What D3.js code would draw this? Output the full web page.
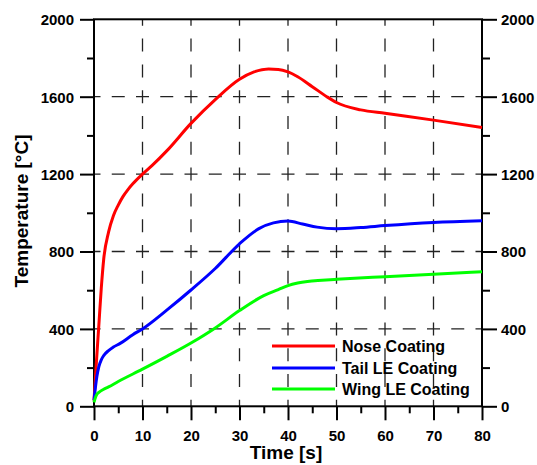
<!DOCTYPE html>
<html>
<head>
<meta charset="utf-8">
<script src="https://cdn.jsdelivr.net/npm/d3@7"></script>
<style>
  body { margin: 0; background: #fff; }
  text { font-family: "Liberation Sans", Arial, sans-serif; font-weight: bold; fill: #000; }
</style>
</head>
<body>
<svg id="chart" width="537" height="465"></svg>
<script>
// data
const noseTime = [0, 0.5, 1, 1.5, 2, 3, 4, 5, 6, 7, 8, 10, 12, 15, 20, 25, 30, 33, 36, 38, 40, 42, 45, 48, 50, 55, 60, 70, 80];
const noseTemp = [30, 230, 420, 610, 760, 900, 985, 1040, 1085, 1120, 1150, 1200, 1245, 1320, 1462, 1585, 1690, 1728, 1743, 1741, 1728, 1703, 1652, 1600, 1570, 1532, 1514, 1479, 1441];

const tailTime = [0, 0.3, 0.6, 1, 1.5, 2, 3, 4, 5.4, 8, 10, 15, 20, 25, 30, 34, 37, 40, 43, 46, 50, 55, 60, 70, 80];
const tailTemp = [30, 100, 155, 205, 240, 262, 288, 306, 325, 370, 400, 497, 601, 712, 840, 918, 948, 957, 942, 926, 918, 924, 934, 950, 959];

const wingTime = [0, 0.3, 0.6, 1, 2, 3, 5, 10, 15, 20, 25, 30, 35, 38, 40, 42, 44, 47, 50, 60, 70, 80];
const wingTemp = [20, 45, 62, 72, 88, 100, 128, 192, 258, 327, 405, 495, 572, 603, 624, 637, 645, 651, 656, 670, 683, 695];

const seriesNames = ['Nose Coating', 'Tail LE Coating', 'Wing LE Coating'];
const seriesColors = ['#ff0000', '#0000ff', '#00ff00'];

const xMajor = [0, 10, 20, 30, 40, 50, 60, 70, 80];
const xMinor = [5, 15, 25, 35, 45, 55, 65, 75];
const yMajor = [0, 400, 800, 1200, 1600, 2000];
const yMinor = [200, 600, 1000, 1400, 1800];

const svg = d3.select('#chart');

const x = d3.scaleLinear().domain([0, 80]).range([94, 482]);
const y = d3.scaleLinear().domain([0, 2000]).range([406.3, 19.3]);
const fmt = d3.format('d');

// grid (dash centred on each crossing)
const grid = svg.append('g').attr('stroke', '#222').attr('stroke-width', 1.3).attr('fill', 'none');
const vPer = (y(0) - y(400)) / 3;
const hPer = (x(10) - x(0)) / 2;
grid.selectAll('line.v')
  .data(xMajor.slice(1, -1))
  .enter()
  .append('line')
  .attr('x1', (d) => x(d)).attr('x2', (d) => x(d))
  .attr('y1', y(2000)).attr('y2', y(0))
  .attr('stroke-dasharray', `13,${vPer - 13}`)
  .attr('stroke-dashoffset', 6.5);
grid.selectAll('line.h')
  .data(yMajor.slice(1, -1))
  .enter()
  .append('line')
  .attr('x1', x(0)).attr('x2', x(80))
  .attr('y1', (d) => y(d)).attr('y2', (d) => y(d))
  .attr('stroke-dasharray', `13,${hPer - 13}`)
  .attr('stroke-dashoffset', 6.5);

// axes
function styleAxis(g) {
  g.select('.domain').remove();
  g.selectAll('line').attr('stroke', '#000').attr('stroke-width', 2);
  g.selectAll('text').style('font-size', '15px').style('font-family', '"Liberation Sans", Arial, sans-serif').style('font-weight', 'bold');
}

svg.append('g')
  .attr('transform', `translate(0,${y(0)})`)
  .call(d3.axisBottom(x).tickValues(xMajor).tickFormat(fmt).tickSize(14).tickPadding(10.5))
  .call(styleAxis);
svg.append('g')
  .attr('transform', `translate(0,${y(0)})`)
  .call(d3.axisBottom(x).tickValues(xMinor).tickSize(7).tickFormat(''))
  .call(styleAxis);

svg.append('g')
  .attr('transform', `translate(${x(0)},0)`)
  .call(d3.axisLeft(y).tickValues(yMajor).tickFormat(fmt).tickSize(14).tickPadding(6))
  .call(styleAxis)
  .call((g) => g.selectAll('text').attr('dy', '0.36em'));
svg.append('g')
  .attr('transform', `translate(${x(0)},0)`)
  .call(d3.axisLeft(y).tickValues(yMinor).tickSize(7).tickFormat(''))
  .call(styleAxis);

svg.append('g')
  .attr('transform', `translate(${x(80)},0)`)
  .call(d3.axisRight(y).tickValues(yMajor).tickFormat(fmt).tickSize(15).tickPadding(4))
  .call(styleAxis)
  .call((g) => g.selectAll('text').attr('dy', '0.36em'));
svg.append('g')
  .attr('transform', `translate(${x(80)},0)`)
  .call(d3.axisRight(y).tickValues(yMinor).tickSize(8).tickFormat(''))
  .call(styleAxis);

// frame
svg.append('rect')
  .attr('x', x(0)).attr('y', y(2000))
  .attr('width', x(80) - x(0)).attr('height', y(0) - y(2000))
  .attr('fill', 'none').attr('stroke', '#000').attr('stroke-width', 2);

// curves
const series = [
  { name: seriesNames[0], t: noseTime, v: noseTemp, color: seriesColors[0] },
  { name: seriesNames[1], t: tailTime, v: tailTemp, color: seriesColors[1] },
  { name: seriesNames[2], t: wingTime, v: wingTemp, color: seriesColors[2] },
];
const line = d3.line()
  .x((d) => x(d[0]))
  .y((d) => y(d[1]))
  .curve(d3.curveMonotoneX);

svg.append('g')
  .selectAll('path')
  .data(series)
  .enter()
  .append('path')
  .attr('d', (s) => line(s.t.map((t, i) => [t, s.v[i]])))
  .attr('fill', 'none')
  .attr('stroke', (s) => s.color)
  .attr('stroke-width', 3)
  .attr('stroke-linejoin', 'round');

// legend
const legend = svg.append('g');
const legY = [346, 368, 389];
legend.selectAll('line')
  .data(series)
  .enter()
  .append('line')
  .attr('x1', 272).attr('x2', 335)
  .attr('y1', (_, i) => legY[i]).attr('y2', (_, i) => legY[i])
  .attr('stroke', (s) => s.color)
  .attr('stroke-width', 3);
legend.selectAll('text')
  .data(series)
  .enter()
  .append('text')
  .attr('x', 342)
  .attr('y', (_, i) => legY[i] + 5.8)
  .style('font-size', '16px')
  .text((s) => s.name);

// axis titles
svg.append('text')
  .attr('x', (x(0) + x(80)) / 2 - 2)
  .attr('y', 459)
  .attr('text-anchor', 'middle')
  .style('font-size', '19px')
  .text('Time [s]');
svg.append('text')
  .attr('transform', `translate(28, 211) rotate(-90)`)
  .attr('text-anchor', 'middle')
  .style('font-size', '19px')
  .text('Temperature [°C]');
</script>
</body>
</html>
